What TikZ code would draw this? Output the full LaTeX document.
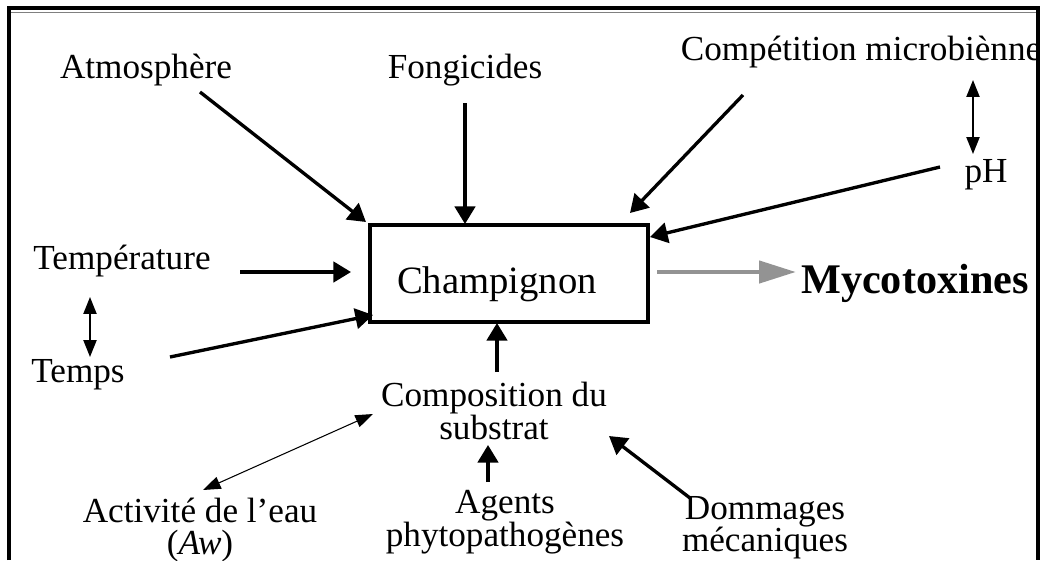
\documentclass[tikz,border=0pt]{standalone}
\usepackage{fontspec}
\setmainfont{Liberation Serif}
\usetikzlibrary{arrows.meta,positioning}

\tikzset{
  lbl/.style={font=\fontsize{10}{9.2}\selectfont, align=center, inner sep=0pt},
  arr/.style={line width=0.95pt, -{Triangle[length=5pt,width=5.8pt]}},
  dblarr/.style={line width=0.55pt, {Triangle[length=4.8pt,width=3.7pt]}-{Triangle[length=4.8pt,width=3.7pt]}},
  thinarr/.style={line width=0.3pt, {Triangle[length=5pt,width=3.6pt]}-{Triangle[length=5pt,width=3.6pt]}},
  outarr/.style={line width=1.4pt, gray!85, -{Triangle[length=10.5pt,width=6.2pt]}}
}

\begin{document}
\begin{tikzpicture}[x=0.01cm, y=-0.01cm]
  \useasboundingbox (0,0) rectangle (1045,560);
  % Frame
  \draw[line width=0.9pt] (9,560) -- (9,8) -- (1038,8) -- (1038,560);
  \draw[gray, line width=0.4pt] (11,12.5) -- (1036,12.5);
  % Nodes
  \node (champ) [draw, line width=0.95pt, minimum width=2.78cm, minimum height=0.97cm] at (509,273.5) {};
  \node (champtxt) [lbl, anchor=base, font=\fontsize{11}{13}\selectfont] at (497,293) {Champignon};
  \node (myco) [lbl, anchor=base, font=\fontsize{12}{14}\selectfont\bfseries] at (915,293) {Mycotoxines};
  \node (atmo) [lbl, anchor=base] at (146,78) {Atmosphère};
  \node (fongi) [lbl, anchor=base] at (465,78) {Fongicides};
  \node (compet) [lbl, anchor=base] at (861,60) {Compétition microbiènne};
  \node (ph) [lbl, anchor=base] at (986,182) {pH};
  \node (temper) [lbl, anchor=base] at (122,269) {Température};
  \node (temps) [lbl, anchor=base] at (78,382) {Temps};
  \node (compo) [lbl] at (494,411) {Composition du\\substrat};
  \node (agents) [lbl] at (505,522) {Agents\\phytopathogènes};
  \node (domm) [lbl] at (765,528) {Dommages\\mécaniques};
  \node (aw) [lbl] at (200,530) {Activité de l’eau\\(\textit{Aw})};
  % Arrow ends
  \coordinate (atmo-s) at (200,92);
  \coordinate (atmo-e) at (366,222);
  \coordinate (fongi-s) at (465,103);
  \coordinate (fongi-e) at (465,224);
  \coordinate (compet-s) at (743,95);
  \coordinate (compet-e) at (630,213);
  \coordinate (ph-s) at (940,167);
  \coordinate (ph-e) at (650,237);
  \coordinate (temper-s) at (240,272);
  \coordinate (temper-e) at (351,272);
  \coordinate (temps-s) at (170,357);
  \coordinate (temps-e) at (373,315);
  \coordinate (compo-s) at (497,372);
  \coordinate (compo-e) at (497,323);
  \coordinate (agents-s) at (488,482);
  \coordinate (agents-e) at (488,445);
  \coordinate (myco-s) at (657,272);
  \coordinate (myco-e) at (796,272);
  \coordinate (domm-s) at (690,498);
  \coordinate (domm-e) at (609,436);
  \coordinate (aw-s) at (203,490);
  \coordinate (aw-e) at (373,414);
  % Arrows
  \draw[arr] (atmo-s) -- (atmo-e);
  \draw[arr] (fongi-s) -- (fongi-e);
  \draw[arr] (compet-s) -- (compet-e);
  \draw[arr] (ph-s) -- (ph-e);
  \draw[arr] (temper-s) -- (temper-e);
  \draw[arr] (temps-s) -- (temps-e);
  \draw[arr] (compo-s) -- (compo-e);
  \draw[arr] (agents-s) -- (agents-e);
  \draw[arr] (domm-s) -- (domm-e);
  \draw[outarr] (myco-s) -- (myco-e);
  \draw[dblarr] (973,80) -- (973,154);
  \draw[dblarr] (90,297) -- (90,357);
  \draw[thinarr] (aw-s) -- (aw-e);
\end{tikzpicture}
\end{document}
